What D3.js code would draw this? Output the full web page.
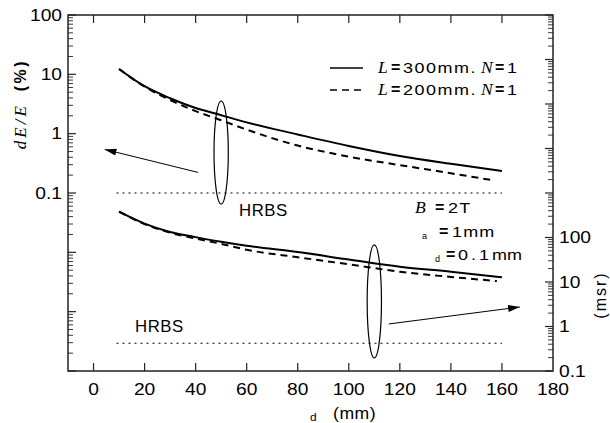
<!DOCTYPE html>
<html>
<head>
<meta charset="utf-8">
<script src="https://cdn.jsdelivr.net/npm/d3@7"></script>
<style>
  body { margin: 0; background: #fff; }
  #chart { width: 610px; height: 423px; }
  text { font-family: "Liberation Sans", Arial, sans-serif; fill: #000; }
  .serif { font-family: "Liberation Serif", "Times New Roman", serif; font-style: italic; }
</style>
</head>
<body>
<div id="chart"></div>
<script>
// ---- data ----
var xTicks = [0, 20, 40, 60, 80, 100, 120, 140, 160, 180];
var leftLabels = [0.1, 1, 10, 100];
var rightLabels = [0.1, 1, 10, 100];

// dE/E (%) vs distance (mm)
var res300x = [10, 20, 30, 40, 50, 60, 80, 100, 120, 140, 160];
var res300 = [12.3, 6.3, 3.95, 2.7, 2.05, 1.55, 0.97, 0.62, 0.42, 0.31, 0.234];
var res200x = [10, 20, 30, 40, 50, 60, 80, 100, 120, 140, 156];
var res200 = [12.3, 6.2, 3.7, 2.4, 1.68, 1.17, 0.63, 0.41, 0.295, 0.215, 0.165];

// solid angle (msr) vs distance (mm)
var sa300x = [10, 20, 30, 40, 50, 60, 80, 100, 120, 140, 160];
var sa300 = [380, 205, 133, 102, 80, 65, 47, 32, 22, 17, 12.8];
var sa200x = [10, 20, 30, 40, 50, 60, 80, 100, 120, 140, 158];
var sa200 = [380, 200, 128, 95, 72, 53, 36, 25, 17, 13, 10.5];

// HRBS reference levels
var hrbsRes = 0.1;     // %
var hrbsSa = 0.42;     // msr
var hrbsRange = [9, 160];

var width = 610, height = 423;
var margin = {top: 15, left: 68, right: 57, bottom: 52};

var svg = d3.select("#chart").append("svg")
    .attr("width", width)
    .attr("height", height);

var xScale = d3.scaleLinear().domain([-10, 180]).range([margin.left, width - margin.right]);
var yLeft = d3.scaleLog().domain([1e-4, 100]).range([height - margin.bottom, margin.top]);
var yRight = d3.scaleLog().domain([0.1, 1e7]).range([height - margin.bottom, margin.top]);

var x0 = margin.left, x1 = width - margin.right, y0 = margin.top, y1 = height - margin.bottom;

// text that is a bit wider than the font, like the scanned original
function label(x, y, str, size, opt) {
    opt = opt || {};
    var g = svg.append("g")
        .attr("transform", "translate(" + x + "," + y + ") scale(" + (opt.sx || 1.2) + ",1)");
    var t = g.append("text")
        .attr("font-size", size)
        .attr("text-anchor", opt.anchor || "start")
        .attr("dy", opt.dy || null)
        .attr("letter-spacing", opt.ls || null)
        .attr("font-weight", opt.bold ? "bold" : null)
        .text(str);
    if (opt.serif) t.attr("class", "serif");
    return t;
}

// ---- frame ----
svg.append("rect")
    .attr("x", x0).attr("y", y0)
    .attr("width", x1 - x0).attr("height", y1 - y0)
    .attr("fill", "none").attr("stroke", "#222").attr("stroke-width", 1.5);

// x ticks (inward, bottom and top)
var tickG = svg.append("g").attr("stroke", "#222").attr("stroke-width", 1.2);
xTicks.forEach(function(t) {
    if (t === 180) return;
    tickG.append("line").attr("x1", xScale(t)).attr("x2", xScale(t)).attr("y1", y1).attr("y2", y1 - 8);
    tickG.append("line").attr("x1", xScale(t)).attr("x2", xScale(t)).attr("y1", y0).attr("y2", y0 + 8);
});
xTicks.forEach(function(t) {
    label(xScale(t), y1 + 24, t, 16, {anchor: "middle"});
});

// log ticks
function logTicks(scale, xAxis, dir) {
    var d = scale.domain();
    var lo = Math.round(Math.log10(d[0])), hi = Math.round(Math.log10(d[1]));
    for (var e = lo; e <= hi; e++) {
        for (var m = 1; m < 10; m++) {
            if (e === hi && m > 1) break;
            var v = m * Math.pow(10, e);
            var len = m === 1 ? 8 : 5;
            tickG.append("line")
                .attr("x1", xAxis).attr("x2", xAxis + dir * len)
                .attr("y1", scale(v)).attr("y2", scale(v))
                .attr("stroke-width", m === 1 ? 1.2 : 0.9);
        }
    }
}
logTicks(yLeft, x0, 1);
logTicks(yRight, x1, -1);

leftLabels.forEach(function(d) {
    label(x0 - 6, yLeft(d), d, 16, {anchor: "end", dy: "0.36em"});
});
rightLabels.forEach(function(d) {
    label(x1 + 6, yRight(d), d, 16, {dy: "0.36em"});
});

// axis titles
var yl = svg.append("text")
    .attr("transform", "translate(26,104) rotate(-90)")
    .attr("text-anchor", "middle");
yl.append("tspan").attr("class", "serif").attr("font-size", 17).attr("letter-spacing", 3).text("dE/E");
yl.append("tspan").attr("font-size", 16).attr("font-weight", "bold").attr("letter-spacing", 2.5).attr("dx", 12).text("(%)");

svg.append("text")
    .attr("transform", "translate(606,295) rotate(-90)")
    .attr("text-anchor", "middle")
    .attr("font-size", 16).attr("letter-spacing", 2)
    .text("(msr)");

label(310, 421, "d", 10);
label(333, 419, "(mm)", 16, {sx: 1.1, ls: 0.5});

// ---- curves ----
var lineL = d3.line()
    .x(function(d) { return xScale(d[0]); })
    .y(function(d) { return yLeft(d[1]); })
    .curve(d3.curveMonotoneX);
var lineR = d3.line()
    .x(function(d) { return xScale(d[0]); })
    .y(function(d) { return yRight(d[1]); })
    .curve(d3.curveMonotoneX);

function pairs(xs, ys) { return xs.map(function(v, i) { return [v, ys[i]]; }); }

svg.append("path").datum(pairs(res300x, res300)).attr("d", lineL)
    .attr("fill", "none").attr("stroke", "#000").attr("stroke-width", 2);
svg.append("path").datum(pairs(res200x, res200)).attr("d", lineL)
    .attr("fill", "none").attr("stroke", "#000").attr("stroke-width", 2).attr("stroke-dasharray", "7,5");
svg.append("path").datum(pairs(sa300x, sa300)).attr("d", lineR)
    .attr("fill", "none").attr("stroke", "#000").attr("stroke-width", 2);
svg.append("path").datum(pairs(sa200x, sa200)).attr("d", lineR)
    .attr("fill", "none").attr("stroke", "#000").attr("stroke-width", 2).attr("stroke-dasharray", "7,5");

// HRBS dotted lines
svg.append("line")
    .attr("x1", xScale(hrbsRange[0])).attr("x2", xScale(hrbsRange[1]))
    .attr("y1", yLeft(hrbsRes)).attr("y2", yLeft(hrbsRes))
    .attr("stroke", "#000").attr("stroke-width", 1).attr("stroke-dasharray", "2,4");
svg.append("line")
    .attr("x1", xScale(hrbsRange[0])).attr("x2", xScale(hrbsRange[1]))
    .attr("y1", yRight(hrbsSa)).attr("y2", yRight(hrbsSa))
    .attr("stroke", "#000").attr("stroke-width", 1).attr("stroke-dasharray", "2,4");

label(239, 216, "HRBS", 16, {sx: 1.05, ls: 0.5});
label(135, 332, "HRBS", 16, {sx: 1.05, ls: 0.5});

// ---- ellipses & arrows ----
function ellipse(cx, top, bottom, scale) {
    var yt = scale(top), yb = scale(bottom);
    svg.append("ellipse")
        .attr("cx", xScale(cx)).attr("cy", (yt + yb) / 2)
        .attr("rx", xScale(cx + 2.8) - xScale(cx)).attr("ry", (yb - yt) / 2)
        .attr("fill", "none").attr("stroke", "#000").attr("stroke-width", 1.2);
}
ellipse(50, 3.55, 0.065, yLeft);
ellipse(110, 68, 0.196, yRight);

svg.append("defs").append("marker")
    .attr("id", "arr").attr("viewBox", "0 0 10 6")
    .attr("refX", 10).attr("refY", 3)
    .attr("markerWidth", 12).attr("markerHeight", 7)
    .attr("markerUnits", "userSpaceOnUse")
    .attr("orient", "auto")
    .append("path").attr("d", "M0,0L10,3L0,6Z").attr("fill", "#000");

svg.append("line")
    .attr("x1", xScale(41)).attr("y1", yLeft(0.222))
    .attr("x2", xScale(4.4)).attr("y2", yLeft(0.543))
    .attr("stroke", "#000").attr("stroke-width", 1).attr("marker-end", "url(#arr)");
svg.append("line")
    .attr("x1", xScale(115.7)).attr("y1", yRight(1.14))
    .attr("x2", xScale(167)).attr("y2", yRight(2.74))
    .attr("stroke", "#000").attr("stroke-width", 1).attr("marker-end", "url(#arr)");

// ---- legend ----
var legend = [
    {dash: null, val: "300mm."},
    {dash: "7,5", val: "200mm."}
];
legend.forEach(function(d, i) {
    var y = 68 + i * 22;
    svg.append("line").attr("x1", 330).attr("x2", 363).attr("y1", y).attr("y2", y)
        .attr("stroke", "#000").attr("stroke-width", 1.5).attr("stroke-dasharray", d.dash);
    var base = y + 5;
    label(378, base, "L", 16, {serif: true, sx: 1.1});
    label(391, base, "=", 16, {bold: true, sx: 1});
    label(403, base, d.val, 15, {ls: 1.25});
    label(481, base, "N", 16, {serif: true, sx: 1.1});
    label(495, base, "=", 16, {bold: true, sx: 1});
    label(507, base, "1", 15);
});

// parameters
label(415, 213, "B", 16, {serif: true, sx: 1.1});
label(435, 213, "=", 16, {bold: true, sx: 1});
label(448, 213, "2T", 15, {ls: 1});

label(422, 239, "a", 9, {sx: 1});
label(439, 237, "=", 16, {bold: true, sx: 1});
label(452, 237, "1mm", 15, {ls: 1});

label(435, 262, "d", 9, {sx: 1});
label(446, 260, "=", 16, {bold: true, sx: 1});
label(458, 260, "0", 15);
label(471, 260, ".", 15);
label(479, 260, "1", 15);
label(492, 260, "mm", 15);
</script>
</body>
</html>
